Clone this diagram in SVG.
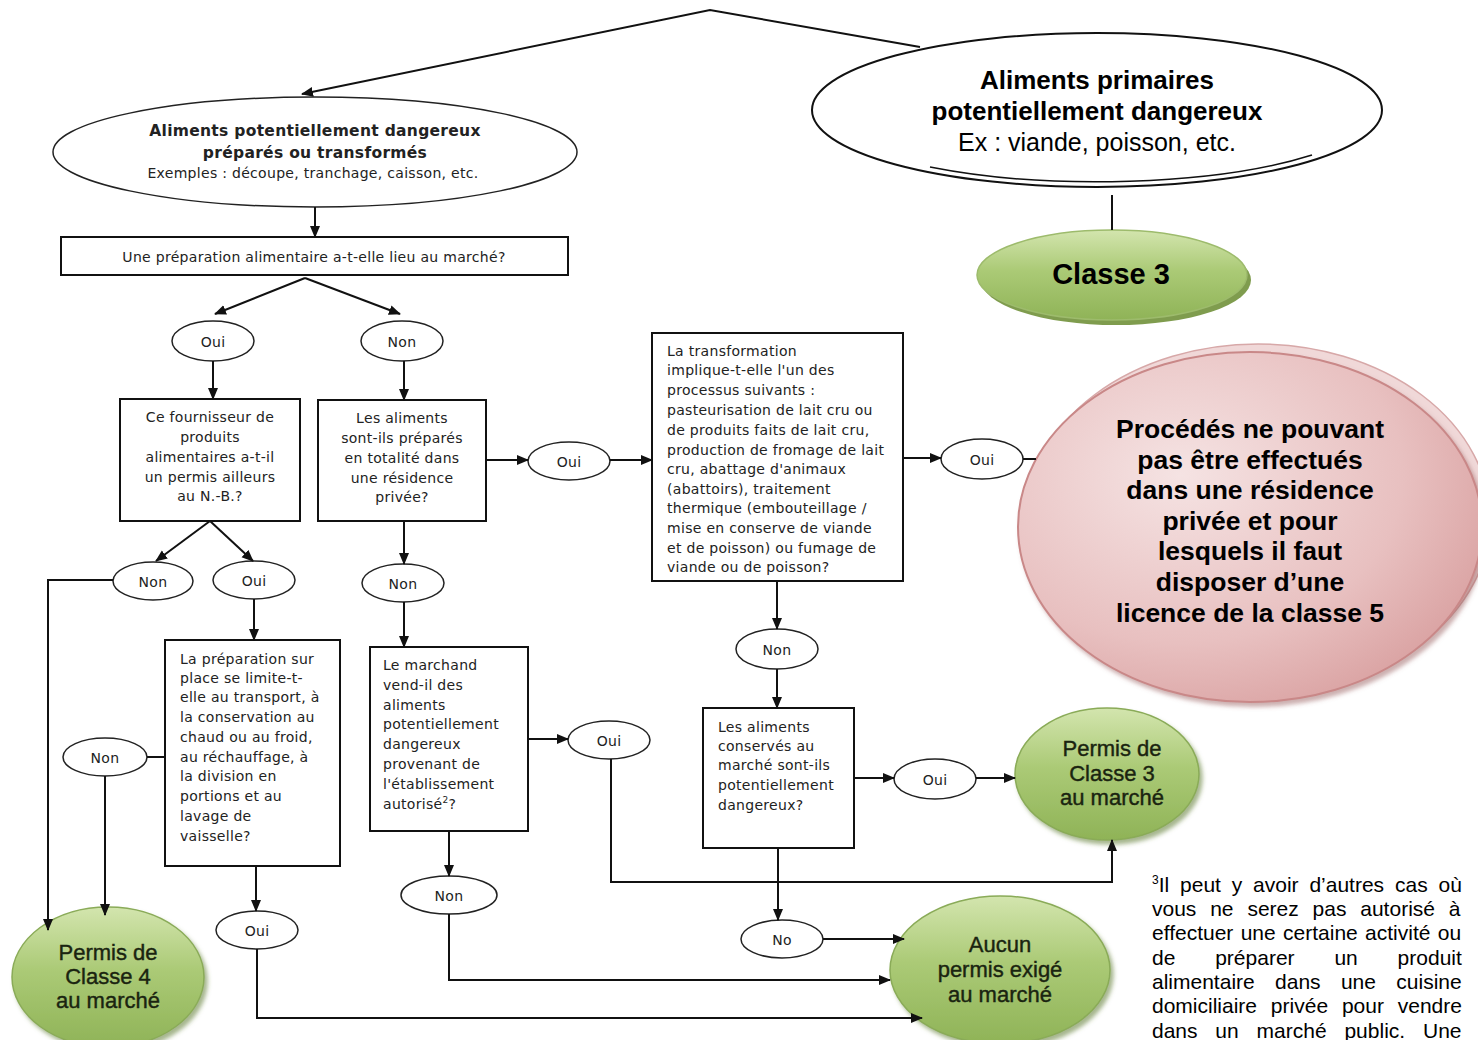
<svg xmlns="http://www.w3.org/2000/svg" width="1478" height="1040" viewBox="0 0 1478 1040">
<defs>
<marker id="arr" markerUnits="userSpaceOnUse" markerWidth="12" markerHeight="12" viewBox="0 0 12 12" refX="11" refY="6" orient="auto">
<path d="M0,1 L12,6 L0,11 Z" fill="#111"/>
</marker>
<linearGradient id="green" x1="0" y1="0" x2="0" y2="1">
<stop offset="0" stop-color="#d3e5ae"/>
<stop offset="0.45" stop-color="#abca76"/>
<stop offset="1" stop-color="#8fb357"/>
</linearGradient>
<radialGradient id="red" cx="0.35" cy="0.35" r="0.8">
<stop offset="0" stop-color="#f5e3e3"/>
<stop offset="0.6" stop-color="#e8c0c0"/>
<stop offset="1" stop-color="#d69a9a"/>
</radialGradient>
<filter id="sh" x="-10%" y="-10%" width="125%" height="130%">
<feDropShadow dx="3" dy="4" stdDeviation="2" flood-color="#5b7a2e" flood-opacity="0.55"/>
</filter>
<filter id="shr" x="-10%" y="-10%" width="125%" height="130%">
<feDropShadow dx="3" dy="4" stdDeviation="2" flood-color="#9a6060" flood-opacity="0.5"/>
</filter>
</defs>
<style>
.t{font-family:"DejaVu Sans",Verdana,sans-serif;font-size:14px;letter-spacing:0.3px;fill:#222}
.c{text-anchor:middle}
.b{font-weight:bold}
.box{fill:#fff;stroke:#111;stroke-width:2}
.lbl{fill:#fff;stroke:#222;stroke-width:1.5}
.gt{font-family:"Liberation Sans",Arial,sans-serif;font-size:22px;fill:#1a2410;stroke:#1a2410;stroke-width:0.4;text-anchor:middle}
.conn path{fill:none;stroke:#111;stroke-width:2}
.fn{font-family:"Liberation Sans",Arial,sans-serif;font-size:21px;fill:#000}
.big{font-family:"Liberation Sans",Arial,sans-serif;text-anchor:middle;fill:#000}
</style>
<rect width="1478" height="1040" fill="#fff"/>

<g id="n-primaires">
<ellipse cx="1097" cy="110" rx="285" ry="77" fill="#fff" stroke="#111" stroke-width="2"/>
<path d="M930,167 A282,76 0 0 0 1312,155" fill="none" stroke="#111" stroke-width="1.5"/>
<text class="big b" x="1097" y="89" style="font-size:26px">Aliments primaires</text>
<text class="big b" x="1097" y="120" style="font-size:26px">potentiellement dangereux</text>
<text class="big" x="1097" y="151" style="font-size:25px">Ex : viande, poisson, etc.</text>
</g>

<g id="n-prepares">
<ellipse cx="315" cy="152" rx="262" ry="55" class="lbl" stroke-width="2"/>
<text class="t c b" x="315" y="136" style="font-size:15.5px">Aliments potentiellement dangereux</text>
<text class="t c b" x="315" y="158" style="font-size:15.5px">préparés ou transformés</text>
<text class="t c" x="313" y="178">Exemples : découpe, tranchage, caisson, etc.</text>
</g>

<g id="n-q1">
<rect x="61" y="237" width="507" height="38" class="box"/>
<text class="t c" x="314" y="262">Une préparation alimentaire a-t-elle lieu au marché?</text>
</g>

<g id="n-oui1"><ellipse cx="213" cy="341" rx="41" ry="20" class="lbl"/><text class="t c" x="213" y="347">Oui</text></g>
<g id="n-non1"><ellipse cx="402" cy="341" rx="41" ry="20" class="lbl"/><text class="t c" x="402" y="347">Non</text></g>

<g id="n-q2">
<rect x="120" y="399" width="180" height="122" class="box"/>
<text class="t c" x="210" y="422">Ce fournisseur de</text>
<text class="t c" x="210" y="442">produits</text>
<text class="t c" x="210" y="462">alimentaires a-t-il</text>
<text class="t c" x="210" y="482">un permis ailleurs</text>
<text class="t c" x="210" y="501">au N.-B.?</text>
</g>

<g id="n-q3">
<rect x="318" y="400" width="168" height="121" class="box"/>
<text class="t c" x="402" y="423">Les aliments</text>
<text class="t c" x="402" y="443">sont-ils préparés</text>
<text class="t c" x="402" y="463">en totalité dans</text>
<text class="t c" x="402" y="483">une résidence</text>
<text class="t c" x="402" y="502">privée?</text>
</g>

<g id="n-non2"><ellipse cx="153" cy="581" rx="40" ry="19" class="lbl"/><text class="t c" x="153" y="587">Non</text></g>
<g id="n-oui2"><ellipse cx="254" cy="580" rx="41" ry="19" class="lbl"/><text class="t c" x="254" y="586">Oui</text></g>

<g id="n-q4">
<rect x="165" y="640" width="175" height="226" class="box"/>
<text class="t" x="180" y="664">La préparation sur</text>
<text class="t" x="180" y="683">place se limite-t-</text>
<text class="t" x="180" y="702">elle au transport, à</text>
<text class="t" x="180" y="722">la conservation au</text>
<text class="t" x="180" y="742">chaud ou au froid,</text>
<text class="t" x="180" y="762">au réchauffage, à</text>
<text class="t" x="180" y="781">la division en</text>
<text class="t" x="180" y="801">portions et au</text>
<text class="t" x="180" y="821">lavage de</text>
<text class="t" x="180" y="841">vaisselle?</text>
</g>

<g id="n-non3"><ellipse cx="105" cy="757" rx="42" ry="19" class="lbl"/><text class="t c" x="105" y="763">Non</text></g>
<g id="n-oui3"><ellipse cx="257" cy="930" rx="41" ry="19" class="lbl"/><text class="t c" x="257" y="936">Oui</text></g>

<g id="n-non4"><ellipse cx="403" cy="583" rx="41" ry="19" class="lbl"/><text class="t c" x="403" y="589">Non</text></g>

<g id="n-q5">
<rect x="370" y="647" width="158" height="184" class="box"/>
<text class="t" x="383" y="670">Le marchand</text>
<text class="t" x="383" y="690">vend-il des</text>
<text class="t" x="383" y="710">aliments</text>
<text class="t" x="383" y="729">potentiellement</text>
<text class="t" x="383" y="749">dangereux</text>
<text class="t" x="383" y="769">provenant de</text>
<text class="t" x="383" y="789">l'établissement</text>
<text class="t" x="383" y="809">autorisé<tspan dy="-6" style="font-size:9px">2</tspan><tspan dy="6">?</tspan></text>
</g>

<g id="n-oui4"><ellipse cx="609" cy="740" rx="41" ry="19" class="lbl"/><text class="t c" x="609" y="746">Oui</text></g>
<g id="n-non5"><ellipse cx="449" cy="895" rx="48" ry="19" class="lbl"/><text class="t c" x="449" y="901">Non</text></g>

<g id="n-oui5"><ellipse cx="569" cy="461" rx="41" ry="19" class="lbl"/><text class="t c" x="569" y="467">Oui</text></g>

<g id="n-q6">
<rect x="652" y="333" width="251" height="248" class="box"/>
<text class="t" x="667" y="356">La transformation</text>
<text class="t" x="667" y="375">implique-t-elle l'un des</text>
<text class="t" x="667" y="395">processus suivants :</text>
<text class="t" x="667" y="415">pasteurisation de lait cru ou</text>
<text class="t" x="667" y="435">de produits faits de lait cru,</text>
<text class="t" x="667" y="455">production de fromage de lait</text>
<text class="t" x="667" y="474">cru, abattage d'animaux</text>
<text class="t" x="667" y="494">(abattoirs), traitement</text>
<text class="t" x="667" y="513">thermique (embouteillage /</text>
<text class="t" x="667" y="533">mise en conserve de viande</text>
<text class="t" x="667" y="553">et de poisson) ou fumage de</text>
<text class="t" x="667" y="572">viande ou de poisson?</text>
</g>

<g id="n-oui6"><ellipse cx="982" cy="459" rx="41" ry="20" class="lbl"/><text class="t c" x="982" y="465">Oui</text></g>
<g id="n-non6"><ellipse cx="777" cy="649" rx="41" ry="20" class="lbl"/><text class="t c" x="777" y="655">Non</text></g>

<g id="n-q7">
<rect x="703" y="708" width="151" height="140" class="box"/>
<text class="t" x="718" y="732">Les aliments</text>
<text class="t" x="718" y="751">conservés au</text>
<text class="t" x="718" y="770">marché sont-ils</text>
<text class="t" x="718" y="790">potentiellement</text>
<text class="t" x="718" y="810">dangereux?</text>
</g>

<g id="n-oui7"><ellipse cx="935" cy="779" rx="41" ry="20" class="lbl"/><text class="t c" x="935" y="785">Oui</text></g>
<g id="n-no"><ellipse cx="782" cy="939" rx="41" ry="19" class="lbl"/><text class="t c" x="782" y="945">No</text></g>

<g id="n-classe3">
<ellipse cx="1116" cy="280" rx="135" ry="45" fill="#7f9c4e"/>
<ellipse cx="1112" cy="275" rx="135" ry="45" fill="url(#green)" stroke="#9dbb6c" stroke-width="1.5"/>
<text class="big b" x="1111" y="284" style="font-size:29px">Classe 3</text>
</g>

<g id="n-classe5">
<ellipse cx="1258" cy="519" rx="232" ry="175" fill="#f0d8d8" stroke="#d7a8a8" stroke-width="1.5"/>
<ellipse cx="1250" cy="527" rx="232" ry="175" fill="url(#red)" stroke="#c98888" stroke-width="2" filter="url(#shr)"/>
<g class="big b" style="font-size:26.5px">
<text x="1250" y="438">Procédés ne pouvant</text>
<text x="1250" y="469">pas être effectués</text>
<text x="1250" y="499">dans une résidence</text>
<text x="1250" y="530">privée et pour</text>
<text x="1250" y="560">lesquels il faut</text>
<text x="1250" y="591">disposer d’une</text>
<text x="1250" y="622">licence de la classe 5</text>
</g>
</g>

<g id="n-permis3">
<ellipse cx="1107" cy="774" rx="92" ry="66" fill="url(#green)" stroke="#8aab58" stroke-width="1.5" filter="url(#sh)"/>
<text class="gt" x="1112" y="756">Permis de</text>
<text class="gt" x="1112" y="781">Classe 3</text>
<text class="gt" x="1112" y="805">au marché</text>
</g>

<g id="n-permis4">
<ellipse cx="108" cy="977" rx="96" ry="70" fill="url(#green)" stroke="#8aab58" stroke-width="1.5" filter="url(#sh)"/>
<text class="gt" x="108" y="960">Permis de</text>
<text class="gt" x="108" y="984">Classe 4</text>
<text class="gt" x="108" y="1008">au marché</text>
</g>

<g id="n-aucun">
<ellipse cx="1000" cy="970" rx="110" ry="74" fill="url(#green)" stroke="#8aab58" stroke-width="1.5" filter="url(#sh)"/>
<text class="gt" x="1000" y="952">Aucun</text>
<text class="gt" x="1000" y="977">permis exigé</text>
<text class="gt" x="1000" y="1002">au marché</text>
</g>

<g id="footnote">
<text class="fn" x="1152" y="892" word-spacing="5"><tspan dy="-8" style="font-size:12px">3</tspan><tspan dy="8">Il peut y avoir d’autres cas où</tspan></text>
<text class="fn" x="1152" y="916" word-spacing="8">vous ne serez pas autorisé à</text>
<text class="fn" x="1152" y="940" word-spacing="1.5">effectuer une certaine activité ou</text>
<text class="fn" x="1152" y="965" word-spacing="34">de préparer un produit</text>
<text class="fn" x="1152" y="989" word-spacing="14.5">alimentaire dans une cuisine</text>
<text class="fn" x="1152" y="1013" word-spacing="8">domiciliaire privée pour vendre</text>
<text class="fn" x="1152" y="1038" word-spacing="12">dans un marché public. Une</text>
</g>

<g id="connectors" class="conn">
<path d="M920,47 L710,10 L302,94" marker-end="url(#arr)"/>
<path d="M315,207 V237" marker-end="url(#arr)"/>
<path d="M305,278 L215,314" marker-end="url(#arr)"/>
<path d="M305,278 L400,314" marker-end="url(#arr)"/>
<path d="M213,361 V399" marker-end="url(#arr)"/>
<path d="M404,361 V400" marker-end="url(#arr)"/>
<path d="M210,521 L156,561" marker-end="url(#arr)"/>
<path d="M210,521 L253,561" marker-end="url(#arr)"/>
<path d="M113,580 H48 V930" marker-end="url(#arr)"/>
<path d="M254,599 V640" marker-end="url(#arr)"/>
<path d="M147,757 H165"/>
<path d="M105,776 V915" marker-end="url(#arr)"/>
<path d="M256,866 V911" marker-end="url(#arr)"/>
<path d="M257,949 V1018 H922" marker-end="url(#arr)"/>
<path d="M404,521 V564" marker-end="url(#arr)"/>
<path d="M404,602 V647" marker-end="url(#arr)"/>
<path d="M528,739 H568" marker-end="url(#arr)"/>
<path d="M611,759 V882 H1112 V840" marker-end="url(#arr)"/>
<path d="M449,831 V876" marker-end="url(#arr)"/>
<path d="M449,914 V980 H890" marker-end="url(#arr)"/>
<path d="M486,460 H528" marker-end="url(#arr)"/>
<path d="M610,460 H652" marker-end="url(#arr)"/>
<path d="M903,458 H941" marker-end="url(#arr)"/>
<path d="M1023,459 H1036"/>
<path d="M777,581 V629" marker-end="url(#arr)"/>
<path d="M777,669 V708" marker-end="url(#arr)"/>
<path d="M854,778 H894" marker-end="url(#arr)"/>
<path d="M976,778 H1015" marker-end="url(#arr)"/>
<path d="M778,848 V920" marker-end="url(#arr)"/>
<path d="M823,939 H904" marker-end="url(#arr)"/>
<path d="M1112,195 V230"/>
</g>
</svg>
